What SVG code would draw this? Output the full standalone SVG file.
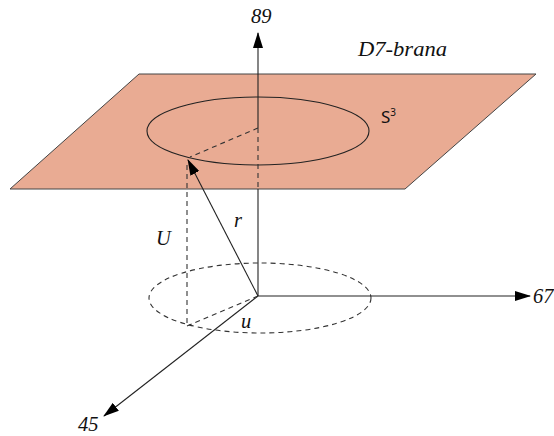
<svg xmlns="http://www.w3.org/2000/svg" width="554" height="436" viewBox="0 0 554 436">
<style>
.ax{stroke:#222;stroke-width:1.1;fill:none}
.ds{stroke:#333;stroke-width:1.1;fill:none;stroke-dasharray:5,4}
.lb{font-family:"Liberation Serif",serif;font-style:italic;font-size:20.5px;fill:#111}
</style>
<defs>
<marker id="ah" viewBox="0 0 16 10" refX="15" refY="5" markerWidth="16" markerHeight="10" markerUnits="userSpaceOnUse" orient="auto">
<path d="M0,0 L16,5 L0,10 Z" fill="#000"/>
</marker>
</defs>
<g id="brane">
<polygon points="139,74 536,74 405,189 10,189" fill="#E9AB93" stroke="#444" stroke-width="1"/>
<text class="lb" x="358" y="56" textLength="89" lengthAdjust="spacingAndGlyphs">D7-brana</text>
</g>
<g id="sphere">
<ellipse cx="258" cy="131" rx="111" ry="34" fill="none" stroke="#222" stroke-width="1.1"/>
<text x="381" y="123" font-family="Noto Sans,sans-serif" font-size="17" fill="#111">S<tspan font-size="10" dy="-7">3</tspan></text>
</g>
<g id="base">
<ellipse cx="260" cy="298" rx="111" ry="35" class="ds"/>
</g>
<g id="connectors">
<line class="ax" x1="258" y1="128" x2="258" y2="33" marker-end="url(#ah)"/>
<line class="ds" x1="258" y1="128" x2="258" y2="189"/>
<line class="ax" x1="258" y1="189" x2="258" y2="296"/>
<line class="ax" x1="258" y1="296" x2="530" y2="296" marker-end="url(#ah)"/>
<line class="ax" x1="258" y1="296" x2="104" y2="416" marker-end="url(#ah)"/>
<line class="ax" x1="258" y1="296" x2="188" y2="160" marker-end="url(#ah)"/>
<line class="ds" x1="258" y1="128" x2="190" y2="157"/>
<line class="ds" x1="187" y1="165" x2="187" y2="326"/>
<line class="ds" x1="187" y1="326" x2="258" y2="296"/>
</g>
<g id="labels">
<text class="lb" x="251" y="23">89</text>
<text class="lb" x="533" y="303">67</text>
<text class="lb" x="78" y="431">45</text>
<text class="lb" x="156" y="245">U</text>
<text class="lb" x="234" y="227">r</text>
<text class="lb" x="241" y="328">u</text>
</g>
</svg>
